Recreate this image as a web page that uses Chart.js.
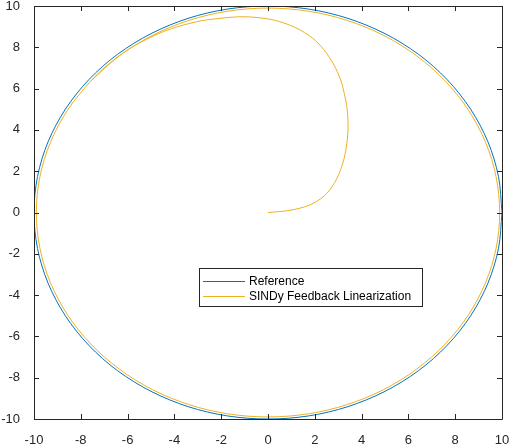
<!DOCTYPE html>
<html>
<head>
<meta charset="utf-8">
<script src="https://cdn.jsdelivr.net/npm/chart.js@4/dist/chart.umd.min.js"></script>
<style>
  html, body { margin: 0; padding: 0; background: #fff; }
  #wrap { width: 512px; height: 448px; }
</style>
</head>
<body>
<div id="wrap"><canvas id="myChart"></canvas></div>
<script>
// reference circle
const refX = [10, 9.85, 9.40, 8.66, 7.66, 6.43, 5.00, 3.42, 1.74, 0, -1.74, -3.42, -5.00, -6.43, -7.66, -8.66, -9.40, -9.85,
  -10, -9.85, -9.40, -8.66, -7.66, -6.43, -5.00, -3.42, -1.74, 0, 1.74, 3.42, 5.00, 6.43, 7.66, 8.66, 9.40, 9.85, 10];
const refY = [0, 1.74, 3.42, 5.00, 6.43, 7.66, 8.66, 9.40, 9.85, 10, 9.85, 9.40, 8.66, 7.66, 6.43, 5.00, 3.42, 1.74,
  0, -1.74, -3.42, -5.00, -6.43, -7.66, -8.66, -9.40, -9.85, -10, -9.85, -9.40, -8.66, -7.66, -6.43, -5.00, -3.42, -1.74, 0];

// SINDy trajectory: spiral out of the origin, then one loop just inside the reference
const sindyX = [0, 0.90, 1.75, 2.40, 2.85, 3.15, 3.33, 3.42, 3.40, 3.32, 3.08, 2.65, 2.08, 1.37, 0.51, -0.34, -1.20, -2.05, -3.05, -4.47, -5.90, -6.88,
  -7.58, -8.57, -9.30, -9.75, -9.90, -9.75, -9.30, -8.57, -7.58, -6.36, -4.95, -3.39, -1.72, 0, 1.72, 3.39, 4.95, 6.36, 7.58, 8.57, 9.30, 9.75,
  9.90, 9.75, 9.30, 8.57, 7.58, 6.36, 4.95, 3.39, 1.72, 0, -1.72, -3.39, -4.95, -6.36, -7.58];
const sindyY = [0, 0.10, 0.35, 0.80, 1.45, 2.22, 3.03, 4.00, 4.80, 5.45, 6.50, 7.47, 8.27, 8.84, 9.24, 9.43, 9.48, 9.40, 9.24, 8.76, 7.95, 7.12,
  6.36, 4.95, 3.39, 1.72, 0, -1.72, -3.39, -4.95, -6.36, -7.58, -8.57, -9.30, -9.75, -9.90, -9.75, -9.30, -8.57, -7.58, -6.36, -4.95, -3.39, -1.72,
  0, 1.72, 3.39, 4.95, 6.36, 7.58, 8.57, 9.30, 9.75, 9.90, 9.75, 9.30, 8.57, 7.58, 6.36];

const tickVals = [-10, -8, -6, -4, -2, 0, 2, 4, 6, 8, 10];
const seriesNames = ["Reference", "SINDy Feedback Linearization"];

const toPoints = (xs, ys) => xs.map((x, i) => ({ x: x, y: ys[i] }));

const axisColor = "#262626";
const fontName = "'Liberation Sans', Arial, sans-serif";

// matlab-style box with inward ticks, and a legend inside the axes
const boxPlugin = {
  id: "box",
  afterDraw(chart) {
    const c = chart.ctx;
    const a = chart.chartArea;
    const xs = chart.scales.x, ys = chart.scales.y;
    c.save();
    c.strokeStyle = axisColor;
    c.lineWidth = 1;
    c.beginPath();
    c.rect(a.left + 0.5, a.top + 0.5, a.right - a.left, a.bottom - a.top);
    tickVals.forEach(v => {
      const px = Math.round(xs.getPixelForValue(v)) + 0.5;
      c.moveTo(px, a.bottom); c.lineTo(px, a.bottom - 5);
      c.moveTo(px, a.top); c.lineTo(px, a.top + 5);
      const py = Math.round(ys.getPixelForValue(v)) + 0.5;
      c.moveTo(a.left, py); c.lineTo(a.left + 5, py);
      c.moveTo(a.right, py); c.lineTo(a.right - 5, py);
    });
    c.stroke();

    // legend
    const lx = 199, ly = 268, lw = 223, lh = 38;
    c.fillStyle = "#fff";
    c.fillRect(lx, ly, lw, lh);
    c.strokeRect(lx + 0.5, ly + 0.5, lw, lh);
    c.font = "12px " + fontName;
    c.textBaseline = "middle";
    chart.data.datasets.forEach((ds, i) => {
      const y = ly + 13 + i * 15 + 0.5;
      c.strokeStyle = ds.borderColor;
      c.beginPath();
      c.moveTo(lx + 4, y); c.lineTo(lx + 46, y);
      c.stroke();
      c.fillStyle = "#000";
      c.fillText(ds.label, lx + 50, y);
    });
    c.restore();
  }
};

const noPad = s => { s.paddingLeft = 0; s.paddingRight = 0; s.paddingTop = 0; s.paddingBottom = 0; };

new Chart(document.getElementById("myChart"), {
  type: "scatter",
  data: {
    datasets: [
      {
        label: seriesNames[0],
        data: toPoints(refX, refY),
        showLine: true,
        borderColor: "#0072BD",
        borderWidth: 1,
        pointRadius: 0,
        tension: 0.33,
      },
      {
        label: seriesNames[1],
        data: toPoints(sindyX, sindyY),
        showLine: true,
        borderColor: "#EDB120",
        borderWidth: 1,
        pointRadius: 0,
        tension: 0.33,
      },
    ],
  },
  options: {
    responsive: true,
    maintainAspectRatio: false,
    animation: false,
    layout: { padding: { top: 6, right: 10, left: 0, bottom: 0 } },
    plugins: {
      legend: { display: false },
      tooltip: { enabled: false },
    },
    scales: {
      x: {
        type: "linear",
        min: -10,
        max: 10,
        grid: { display: false },
        border: { display: false },
        afterBuildTicks: s => { s.ticks = tickVals.map(v => ({ value: v })); },
        afterFit: s => { s.height = 29; noPad(s); },
        ticks: {
          color: axisColor,
          padding: 6,
          maxRotation: 0,
          font: { size: 13, family: fontName },
        },
      },
      y: {
        type: "linear",
        min: -10,
        max: 10,
        grid: { display: false },
        border: { display: false },
        afterBuildTicks: s => { s.ticks = tickVals.map(v => ({ value: v })); },
        afterFit: s => { s.width = 34; noPad(s); },
        ticks: {
          color: axisColor,
          padding: 6,
          font: { size: 13, family: fontName },
        },
      },
    },
  },
  plugins: [boxPlugin],
});
</script>
</body>
</html>
